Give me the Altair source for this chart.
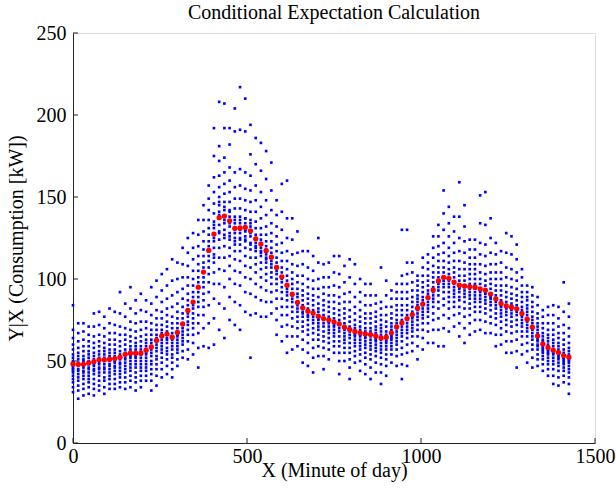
import altair as alt
import pandas as pd

# minute of day of each column (every 15 minutes)
minutes = list(range(0, 1440, 15))

# conditional expectation E[Y|X] (red dots)
red_y = [48.2, 48.0, 48.0, 48.8, 49.6, 50.7, 50.7, 51.1, 51.5, 52.3, 54.1, 54.8,
         54.8, 54.8, 56.6, 58.6, 62.5, 65.3, 66.4, 64.5, 67.4, 72.6, 80.8, 85.9,
         95.0, 104.2, 117.4, 127.4, 137.4, 138.4, 135.5, 130.9, 131.1, 131.5, 129.4, 124.5,
         121.3, 117.3, 113.3, 107.0, 101.3, 96.2, 90.7, 85.7, 82.4, 80.4, 79.2, 77.3,
         75.9, 75.1, 73.9, 72.6, 70.6, 69.2, 68.0, 67.2, 66.5, 66.1, 65.3, 64.1,
         64.5, 67.2, 70.8, 73.3, 75.9, 78.3, 82.2, 84.7, 88.7, 93.3, 98.8, 101.0,
         100.4, 98.1, 96.2, 95.8, 95.2, 95.0, 94.0, 93.2, 90.8, 87.9, 85.1, 83.6,
         82.8, 81.8, 79.0, 75.5, 70.6, 65.3, 60.4, 58.3, 56.6, 55.2, 53.3, 52.3]

# observed consumption Y at each column (blue dots), read approximately
blue_a = [  # 00:00 - 02:45
    [31, 34, 37, 39, 41, 43, 44, 45, 46, 47, 48, 49, 50, 52, 54, 57, 60, 64, 69, 84],
    [27, 32, 35, 38, 40, 42, 44, 45, 47, 48, 49, 51, 53, 55, 58, 62, 67, 73],
    [29, 33, 36, 39, 41, 43, 44, 46, 47, 48, 50, 51, 53, 56, 59, 63, 68, 73],
    [30, 34, 37, 39, 41, 43, 45, 46, 48, 49, 50, 52, 54, 56, 59, 62, 66, 71],
    [29, 33, 36, 39, 42, 44, 45, 47, 48, 50, 51, 53, 55, 58, 61, 65, 71, 79],
    [32, 35, 38, 41, 43, 45, 46, 48, 49, 51, 52, 54, 56, 59, 62, 66, 72, 80],
    [30, 34, 38, 40, 43, 45, 46, 48, 50, 51, 52, 54, 56, 58, 61, 65, 70, 77],
    [33, 36, 39, 41, 43, 45, 47, 48, 50, 51, 53, 55, 57, 60, 63, 67, 73, 82],
    [33, 36, 39, 42, 44, 46, 47, 49, 50, 52, 53, 55, 57, 60, 63, 67, 72, 80],
    [34, 37, 40, 42, 44, 46, 48, 49, 51, 52, 54, 56, 59, 62, 66, 71, 79, 92],
    [33, 37, 40, 43, 45, 47, 49, 51, 52, 54, 55, 57, 60, 63, 66, 70, 77, 85],
    [34, 38, 41, 44, 46, 48, 50, 52, 53, 55, 57, 59, 62, 65, 69, 74, 82, 95],
]
blue_b = [  # 03:00 - 05:45
    [32, 37, 40, 43, 46, 48, 50, 52, 53, 55, 57, 59, 61, 64, 68, 73, 79, 87],
    [34, 38, 41, 44, 46, 48, 50, 52, 54, 55, 57, 59, 62, 65, 69, 74, 81, 91],
    [38, 41, 44, 46, 48, 50, 52, 54, 55, 57, 59, 61, 63, 66, 70, 74, 80, 87],
    [32, 38, 42, 45, 48, 50, 53, 55, 57, 59, 61, 63, 66, 69, 73, 78, 85, 95],
    [35, 41, 45, 48, 51, 53, 56, 58, 60, 62, 64, 66, 69, 72, 76, 81, 89, 99],
    [40, 45, 49, 52, 55, 57, 59, 61, 63, 65, 67, 69, 72, 76, 80, 86, 93, 103],
    [42, 47, 51, 54, 56, 58, 61, 63, 64, 66, 68, 71, 74, 78, 82, 88, 96, 106],
    [40, 45, 49, 52, 54, 57, 59, 61, 63, 64, 67, 70, 73, 77, 83, 90, 99, 112],
    [47, 51, 55, 57, 59, 61, 63, 65, 66, 67, 70, 73, 76, 80, 85, 92, 100, 110],
    [52, 56, 60, 62, 64, 66, 68, 70, 72, 73, 76, 79, 83, 88, 94, 101, 109, 119],
    [51, 57, 62, 66, 69, 72, 74, 77, 79, 81, 84, 87, 91, 96, 101, 108, 116, 125],
    [54, 61, 66, 70, 73, 76, 79, 82, 84, 86, 89, 92, 96, 100, 105, 112, 119, 128],
]
blue_c = [  # 06:00 - 08:45
    [46, 58, 67, 73, 78, 83, 86, 89, 92, 95, 98, 101, 105, 109, 114, 120, 127, 136],
    [59, 70, 78, 83, 87, 91, 95, 98, 101, 104, 107, 110, 114, 118, 123, 129, 136, 145],
    [58, 73, 84, 92, 98, 103, 107, 111, 114, 117, 120, 123, 127, 131, 136, 142, 149, 157],
    [60, 76, 88, 97, 104, 110, 113, 115, 119, 123, 125, 127, 131, 133, 135, 140, 146, 153, 162, 175, 192],
    [69, 85, 97, 106, 113, 119, 124, 128, 129, 133, 137, 139, 141, 145, 147, 150, 156, 163, 172, 181, 208],
    [64, 82, 95, 105, 113, 120, 125, 127, 130, 134, 136, 138, 142, 144, 147, 152, 158, 165, 174, 192, 207],
    [75, 89, 100, 108, 114, 119, 124, 126, 128, 132, 134, 135, 138, 141, 142, 147, 153, 160, 168, 182, 192],
    [72, 86, 97, 105, 112, 117, 121, 123, 125, 128, 130, 131, 134, 136, 138, 143, 149, 156, 165, 190, 204],
    [69, 84, 96, 104, 111, 117, 121, 124, 125, 128, 130, 131, 134, 136, 138, 143, 149, 157, 167, 191, 217],
    [80, 92, 101, 108, 114, 119, 123, 124, 126, 129, 130, 131, 134, 137, 137, 142, 148, 155, 165, 190, 210],
    [52, 78, 91, 100, 107, 113, 118, 121, 122, 126, 128, 129, 132, 134, 136, 141, 147, 154, 163, 176, 194],
    [79, 89, 97, 104, 109, 113, 117, 119, 120, 122, 124, 125, 127, 131, 135, 141, 148, 157, 170, 186],
]
blue_d = [  # 09:00 - 11:45
    [77, 87, 95, 101, 106, 110, 114, 116, 117, 119, 121, 122, 124, 127, 131, 137, 144, 153, 166, 183],
    [77, 86, 93, 99, 103, 107, 110, 112, 113, 115, 117, 118, 120, 123, 127, 132, 139, 148, 161, 178],
    [79, 86, 92, 97, 101, 104, 107, 109, 111, 113, 116, 119, 123, 128, 134, 142, 154, 171],
    [66, 75, 82, 88, 93, 97, 100, 103, 105, 107, 110, 113, 117, 121, 126, 132, 139, 148],
    [62, 71, 78, 83, 88, 92, 95, 98, 100, 101, 104, 107, 111, 116, 122, 130, 141, 158],
    [55, 65, 72, 78, 83, 87, 90, 92, 94, 96, 99, 102, 106, 111, 117, 125, 137, 160],
    [57, 65, 71, 76, 80, 83, 86, 88, 90, 91, 94, 97, 100, 104, 109, 115, 124, 137],
    [59, 65, 70, 74, 77, 80, 82, 84, 85, 86, 89, 91, 94, 98, 102, 108, 116, 129],
    [49, 57, 63, 68, 71, 74, 77, 79, 80, 82, 84, 87, 90, 93, 97, 102, 109, 117],
    [47, 55, 61, 66, 69, 72, 75, 77, 78, 80, 82, 85, 88, 91, 95, 100, 107, 117],
    [43, 52, 58, 63, 67, 70, 73, 75, 77, 79, 81, 84, 87, 90, 94, 99, 105, 114],
    [53, 59, 63, 66, 69, 71, 73, 75, 76, 77, 80, 82, 85, 89, 94, 100, 110, 125],
]
blue_e = [  # 12:00 - 14:45
    [45, 53, 58, 62, 65, 68, 71, 73, 75, 76, 78, 81, 84, 87, 91, 95, 101, 109],
    [51, 57, 61, 64, 67, 69, 71, 73, 74, 75, 77, 80, 83, 86, 90, 95, 101, 110],
    [55, 59, 62, 65, 67, 69, 71, 72, 73, 74, 76, 79, 82, 86, 90, 96, 104, 114],
    [42, 50, 55, 59, 62, 65, 68, 70, 72, 73, 75, 78, 81, 85, 89, 95, 103, 114],
    [50, 55, 58, 61, 63, 65, 67, 69, 70, 71, 73, 76, 79, 82, 86, 91, 98, 108],
    [39, 46, 51, 55, 58, 61, 64, 66, 68, 69, 71, 74, 77, 81, 86, 92, 101, 112],
    [49, 53, 56, 59, 61, 63, 65, 66, 67, 68, 70, 72, 75, 79, 83, 89, 97, 109],
    [44, 50, 54, 57, 59, 61, 63, 65, 66, 67, 69, 71, 74, 77, 81, 86, 92, 100],
    [42, 48, 52, 55, 58, 60, 62, 64, 65, 66, 68, 70, 73, 76, 79, 84, 90, 97],
    [39, 46, 51, 54, 57, 59, 61, 63, 65, 66, 68, 70, 73, 76, 79, 84, 90, 97],
    [43, 49, 53, 56, 58, 60, 62, 63, 64, 65, 67, 69, 71, 74, 77, 80, 85, 90],
    [36, 43, 48, 52, 55, 57, 59, 61, 63, 64, 66, 68, 70, 72, 75, 78, 82, 86, 107],
]
blue_f = [  # 15:00 - 17:45
    [41, 47, 51, 54, 57, 59, 61, 62, 63, 64, 66, 68, 71, 74, 78, 83, 90, 99],
    [49, 54, 57, 59, 61, 63, 64, 65, 66, 67, 69, 71, 73, 76, 79, 83, 88, 93],
    [47, 53, 57, 60, 62, 64, 66, 68, 70, 71, 73, 75, 78, 81, 84, 88, 92, 97],
    [39, 48, 54, 58, 62, 65, 67, 69, 71, 73, 75, 78, 81, 84, 88, 92, 97, 102, 130],
    [47, 55, 60, 64, 67, 69, 71, 73, 75, 76, 78, 81, 84, 88, 92, 97, 103, 110, 130],
    [56, 61, 65, 68, 70, 72, 74, 76, 77, 78, 80, 83, 86, 89, 93, 98, 104, 110],
    [51, 59, 65, 69, 72, 75, 77, 79, 81, 82, 84, 86, 88, 90, 93, 96, 99, 102],
    [57, 64, 69, 73, 76, 78, 80, 82, 84, 85, 87, 89, 92, 95, 98, 102, 107, 113],
    [61, 68, 73, 77, 80, 82, 84, 86, 88, 89, 91, 93, 96, 99, 102, 106, 110, 115],
    [61, 69, 75, 79, 83, 86, 88, 90, 92, 93, 95, 98, 101, 104, 108, 113, 119, 126],
    [59, 69, 76, 82, 86, 90, 93, 95, 97, 99, 101, 104, 107, 111, 115, 120, 126, 133],
    [59, 70, 78, 84, 88, 92, 95, 97, 99, 101, 104, 107, 111, 116, 122, 130, 140, 154],
]
blue_g = [  # 18:00 - 20:45
    [68, 76, 82, 86, 89, 92, 95, 97, 99, 100, 103, 106, 110, 114, 119, 126, 134, 144],
    [71, 78, 83, 86, 89, 91, 93, 95, 97, 98, 101, 104, 107, 111, 116, 122, 129, 138],
    [65, 73, 79, 83, 87, 89, 92, 94, 95, 96, 99, 102, 106, 111, 117, 125, 138, 159],
    [61, 70, 77, 82, 86, 89, 91, 93, 95, 96, 99, 102, 106, 110, 116, 123, 132, 145],
    [66, 73, 78, 82, 85, 88, 90, 92, 94, 95, 97, 100, 103, 106, 109, 113, 118, 124],
    [68, 75, 80, 83, 86, 88, 90, 92, 94, 95, 97, 100, 103, 106, 109, 113, 118, 124],
    [69, 75, 80, 83, 86, 88, 90, 92, 93, 94, 97, 100, 104, 109, 115, 122, 134, 151],
    [67, 74, 79, 82, 85, 87, 89, 91, 92, 93, 96, 99, 103, 108, 114, 121, 133, 153],
    [67, 73, 77, 81, 84, 86, 88, 89, 90, 91, 94, 97, 100, 104, 109, 116, 125, 137],
    [59, 66, 72, 76, 79, 82, 84, 86, 87, 88, 90, 93, 96, 100, 104, 109, 115, 122],
    [60, 66, 70, 74, 77, 79, 81, 83, 84, 85, 87, 90, 93, 96, 100, 104, 110, 117],
    [55, 62, 68, 72, 75, 78, 80, 82, 83, 84, 86, 89, 92, 96, 101, 107, 116, 128],
]
blue_h = [  # 21:00 - 23:45
    [55, 62, 67, 71, 74, 77, 79, 81, 82, 83, 85, 88, 91, 95, 100, 106, 115, 126],
    [46, 56, 63, 68, 72, 75, 78, 80, 81, 82, 84, 87, 90, 94, 99, 104, 112, 121],
    [54, 60, 65, 68, 71, 73, 75, 77, 78, 79, 81, 83, 86, 89, 92, 96, 101, 106],
    [49, 56, 61, 65, 68, 70, 72, 74, 75, 76, 78, 80, 82, 84, 87, 89, 92, 96],
    [46, 52, 57, 60, 63, 65, 67, 69, 70, 71, 73, 75, 77, 80, 83, 86, 90, 95],
    [47, 51, 54, 57, 59, 60, 62, 63, 64, 65, 67, 69, 71, 73, 76, 79, 84, 89],
    [44, 48, 51, 53, 55, 56, 57, 58, 59, 60, 62, 63, 65, 67, 70, 73, 77, 81],
    [41, 45, 48, 50, 52, 54, 55, 56, 57, 58, 60, 62, 64, 66, 69, 73, 78, 83],
    [36, 41, 45, 48, 50, 52, 54, 55, 56, 57, 59, 61, 63, 66, 69, 73, 78, 84],
    [35, 40, 44, 47, 49, 51, 52, 53, 54, 55, 57, 59, 61, 64, 67, 71, 76, 83],
    [37, 41, 44, 46, 48, 49, 50, 51, 52, 53, 55, 57, 60, 63, 67, 72, 80, 98],
    [30, 36, 40, 43, 45, 47, 49, 50, 51, 52, 54, 56, 58, 61, 65, 70, 77, 85],
]

x_ticks = [0, 500, 1000, 1500]
y_ticks = [0, 50, 100, 150, 200, 250]

blue_cols = blue_a + blue_b + blue_c + blue_d + blue_e + blue_f + blue_g + blue_h
blue_rows = [{"x": m, "y": v} for m, col in zip(minutes, blue_cols) for v in col]
blue_df = pd.DataFrame(blue_rows)
red_df = pd.DataFrame({"x": minutes, "y": red_y})
xt_df = pd.DataFrame({"x": x_ticks})
yt_df = pd.DataFrame({"y": y_ticks})

W, H = 522, 410
FONT = "Liberation Serif"

xscale = alt.Scale(domain=[0, 1500], nice=False, zero=False)
yscale = alt.Scale(domain=[0, 250], nice=False, zero=False)

ax_x = alt.Axis(values=x_ticks, format="d", title="X (Minute of day)", grid=False, tickSize=0,
                labelPadding=3, titlePadding=-6, labelFont=FONT, labelFontSize=20,
                labelColor="black", titleFont=FONT, titleFontSize=20,
                titleFontWeight="normal", titleColor="black", domainColor="#222222",
                labelFlush=False, labelOverlap=False)
ax_y = alt.Axis(values=y_ticks, format="d", title="Y|X (Consumption [kW])", grid=False, tickSize=0,
                labelPadding=7, titlePadding=10, labelFont=FONT, labelFontSize=20,
                labelColor="black", titleFont=FONT, titleFontSize=20,
                titleFontWeight="normal", titleColor="black", domainColor="#222222",
                labelFlush=False, labelOverlap=False)

blue = alt.Chart(blue_df).mark_square(size=7, color="#0000FF", opacity=1).encode(
    x=alt.X("x:Q", scale=xscale, axis=ax_x),
    y=alt.Y("y:Q", scale=yscale, axis=ax_y),
)
red = alt.Chart(red_df).mark_circle(size=28, color="#FF0000", opacity=1).encode(
    x=alt.X("x:Q", scale=xscale, axis=ax_x),
    y=alt.Y("y:Q", scale=yscale, axis=ax_y),
)
xt = alt.Chart(xt_df).mark_rule(color="#222222", strokeWidth=1).encode(
    x=alt.X("x:Q", scale=xscale, axis=ax_x),
    y=alt.value(H), y2=alt.value(H - 5),
)
yt = alt.Chart(yt_df).mark_rule(color="#222222", strokeWidth=1).encode(
    y=alt.Y("y:Q", scale=yscale, axis=ax_y),
    x=alt.value(0), x2=alt.value(5),
)

chart = alt.layer(blue, red, xt, yt).properties(
    width=W, height=H,
    title=alt.TitleParams("Conditional Expectation Calculation", font=FONT, fontSize=20,
                          fontWeight="normal", color="black", anchor="middle", offset=0),
    autosize=alt.AutoSizeParams(type="none"),
    padding={"left": 73, "top": 33, "right": 21, "bottom": 54},
).configure_view(strokeWidth=0).configure(background="white")

chart.save("out.html", embed_options={"renderer": "svg", "actions": False})
